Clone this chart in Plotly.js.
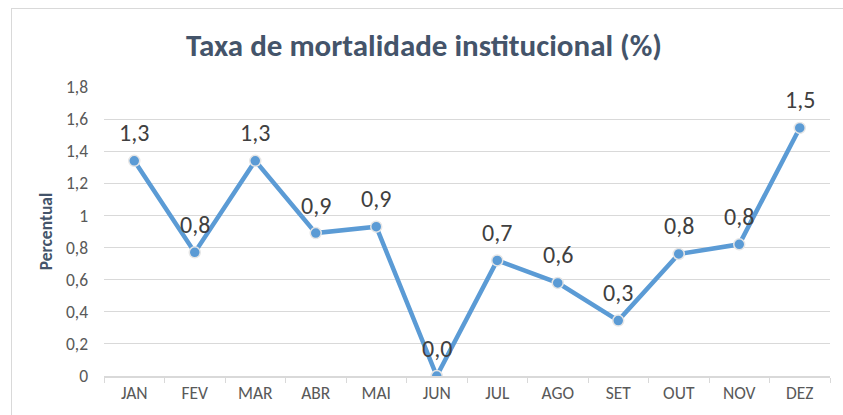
<!DOCTYPE html>
<html>
<head>
<meta charset="utf-8">
<script src="https://cdn.plot.ly/plotly-3.0.1.min.js"></script>
<style>
  html, body { margin: 0; padding: 0; background: #fff; }
  #chart { width: 843px; height: 415px; }
  #frame { position: absolute; left: 11px; top: 8px; width: 900px; height: 500px;
           border: 1px solid #D9D9D9; pointer-events: none; }
</style>
</head>
<body>
<div id="chart"></div>
<div id="frame"></div>
<script>
const months = ["JAN","FEV","MAR","ABR","MAI","JUN","JUL","AGO","SET","OUT","NOV","DEZ"];
const rates = [1.34, 0.77, 1.34, 0.89, 0.93, 0.0, 0.72, 0.58, 0.345, 0.76, 0.82, 1.545];
const labels = ["1,3","0,8","1,3","0,9","0,9","0,0","0,7","0,6","0,3","0,8","0,8","1,5"];
const yTicks = [0, 0.2, 0.4, 0.6, 0.8, 1, 1.2, 1.4, 1.6, 1.8];
const yTickText = ["0","0,2","0,4","0,6","0,8","1","1,2","1,4","1,6","1,8"];

const FONT = "Carlito, Lato, 'Open Sans', sans-serif";

const trace = {
  x: months, y: rates, type: "scatter", mode: "lines+markers",
  line: { color: "#5B9BD5", width: 4.5 },
  marker: { color: "#5B9BD5", size: 11, line: { color: "#E6E6E6", width: 1.5 } },
  hoverinfo: "skip"
};

const annotations = months.map((m, i) => ({
  x: m, y: rates[i], xref: "x", yref: "y", text: labels[i], showarrow: false,
  yshift: 28, font: { family: FONT, size: 24, color: "#404040" }
}));

const layout = {
  width: 843, height: 415,
  margin: { l: 104, r: 13, t: 87, b: 39 },
  paper_bgcolor: "#fff", plot_bgcolor: "#fff",
  showlegend: false,
  title: { text: "<b>Taxa de mortalidade institucional (%)</b>",
           x: 0.503, xanchor: "center", y: 0.892, yanchor: "middle", yref: "container",
           font: { family: FONT, size: 31, color: "#44546A" } },
  xaxis: {
    type: "category", tickson: "boundaries", ticks: "outside", ticklen: 5,
    tickcolor: "#D9D9D9", showline: true, linecolor: "#D9D9D9", linewidth: 1.5,
    showgrid: false, tickfont: { family: FONT, size: 17.5, color: "#595959" },
    range: [-0.5, 11.5], fixedrange: true
  },
  yaxis: {
    range: [0, 1.8], tickvals: yTicks, ticktext: yTickText,
    showgrid: true, gridcolor: "#D9D9D9", gridwidth: 1, zeroline: false,
    showline: false, ticks: "", ticklabelstandoff: 15,
    tickfont: { family: FONT, size: 17.5, color: "#595959" },
    title: { text: "<b>Percentual</b>", standoff: 8,
             font: { family: FONT, size: 17.5, color: "#44546A" } },
    fixedrange: true
  },
  annotations: annotations
};

Plotly.newPlot("chart", [trace], layout, { displayModeBar: false, staticPlot: true });
</script>
</body>
</html>
